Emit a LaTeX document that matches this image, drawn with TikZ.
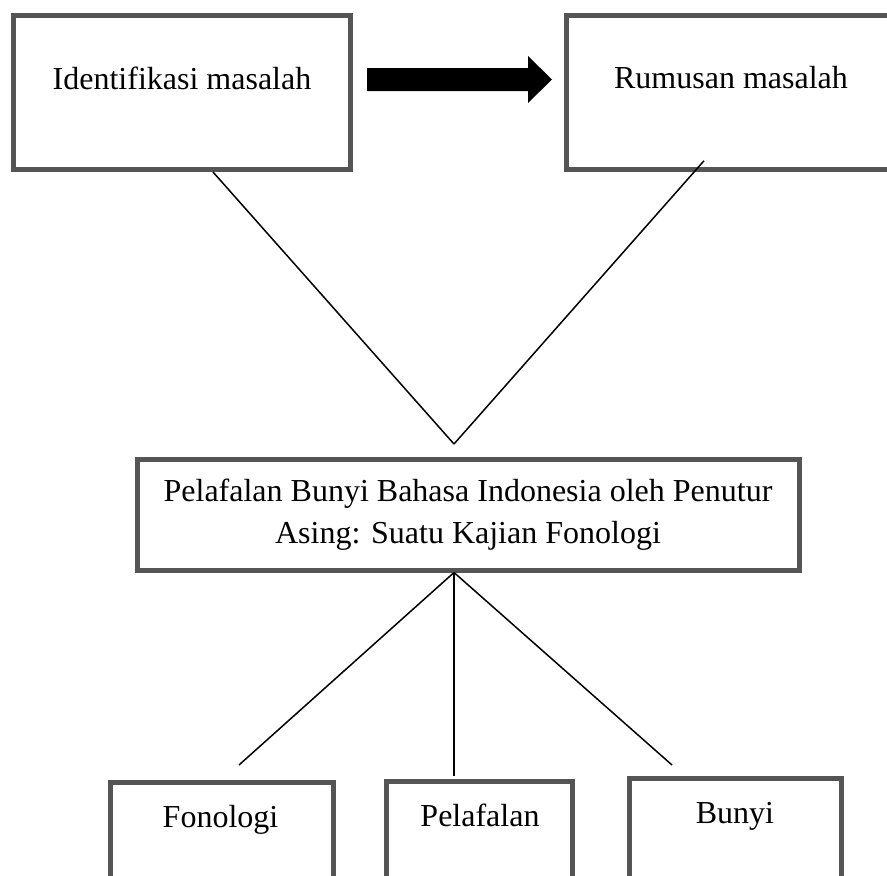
\documentclass[tikz,border=0pt]{standalone}
\usepackage{fontspec}
\setmainfont{Liberation Serif}
\definecolor{bordergray}{RGB}{85,85,85}
\begin{document}
\begin{tikzpicture}[x=1pt,y=-1pt,
  box/.style={draw=bordergray, line width=5pt, rectangle, inner sep=0pt, fill=white},
  lbl/.style={font=\fontsize{32}{42}\selectfont, inner sep=0pt},
  conn/.style={line width=1.5pt, black}]
\useasboundingbox (0,0) rectangle (887,876);
\clip (0,0) rectangle (887,876);
% top boxes
\node[box, minimum width=337.5pt, minimum height=154pt] (b1) at (182,92.5) {};
\node[box, minimum width=330pt, minimum height=154pt] (b2) at (731,92.25) {};
\node[lbl, anchor=base] (t1) at (182,89) {Identifikasi masalah};
\node[lbl, anchor=base] (t2) at (731,88) {Rumusan masalah};
% block arrow
\fill[black] (367,68) -- (528,68) -- (528,56) -- (552,79.5) -- (528,103) -- (528,91) -- (367,91) -- cycle;
% middle box
\node[box, minimum width=662pt, minimum height=111pt] (m) at (468,514.5) {};
\node[lbl, anchor=base] (tm1) at (468,501) {Pelafalan Bunyi Bahasa Indonesia oleh Penutur};
\node[lbl, anchor=base] (tm2) at (468,543) {Asing: Suatu Kajian Fonologi};
% bottom boxes
\node[box, minimum width=223pt, minimum height=140pt] (f) at (221.5,852) {};
\node[box, minimum width=186pt, minimum height=140pt] (p) at (479,851) {};
\node[box, minimum width=212pt, minimum height=140pt] (bn) at (735,848) {};
\node[lbl, anchor=base] (tf) at (220.5,827) {Fonologi};
\node[lbl, anchor=base] (tp) at (480,826) {Pelafalan};
\node[lbl, anchor=base] (tb) at (735,823) {Bunyi};
% connectors
\coordinate (v) at (454,444);
\coordinate (lend) at (239,765);
\coordinate (rend) at (672,765);
\draw[conn] ([xshift=31pt]b1.south) -- (v);
\draw[conn] ([xshift=-27pt,yshift=11pt]b2.south) -- (v);
\draw[conn] ([xshift=-14pt]m.south) -- (lend);
\draw[conn] ([xshift=-14pt]m.south) -- ([xshift=-25pt,yshift=2.5pt]p.north);
\draw[conn] ([xshift=-14pt]m.south) -- (rend);
\end{tikzpicture}
\end{document}
